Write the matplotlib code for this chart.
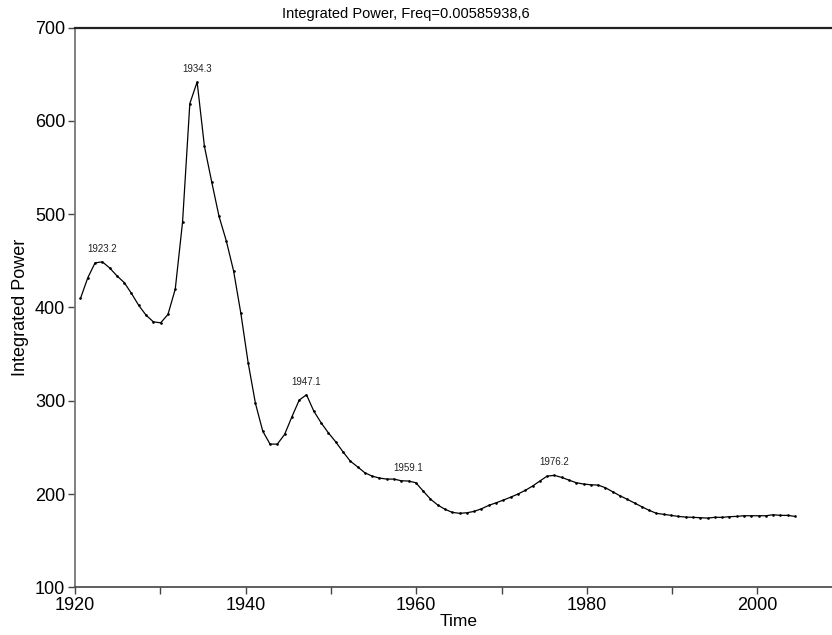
import numpy as np
import matplotlib.pyplot as plt

# integrated power, one value per time step
power = [
    409.6, 431.7, 447.8, 448.9, 442.4, 433.9, 426.7, 415.0, 402.1, 391.7,
    384.6, 383.5, 392.5, 419.6, 491.4, 618.6, 641.7, 572.8, 534.6, 497.8,
    471.4, 439.2, 393.6, 340.6, 297.1, 267.4, 253.5, 253.5, 263.9, 282.8,
    300.7, 306.4, 288.9, 276.4, 265.6, 256.0, 245.3, 235.3, 229.2, 222.8,
    219.2, 217.1, 216.0, 216.0, 214.2, 213.9, 212.1, 203.2, 194.6, 188.2,
    183.6, 180.3, 179.3, 179.9, 181.4, 184.2, 187.8, 190.6, 193.5, 196.6,
    200.0, 203.9, 208.5, 213.9, 219.2, 220.0, 217.8, 214.9, 212.1, 210.7,
    209.9, 209.6, 206.7, 202.4, 198.1, 194.3, 190.3, 186.3, 182.5, 179.3,
    178.2, 177.1, 176.0, 175.3, 175.0, 174.6, 174.2, 175.0, 175.0, 175.7,
    176.0, 176.7, 176.7, 176.7, 176.7, 177.8, 177.1, 177.1, 176.0,
]
t0, dt = 1920.64, 0.8548
peak_idx = [3, 16, 31, 45, 65]

years = t0 + dt * np.arange(len(power))

plt.rcParams['font.family'] = ['Liberation Sans', 'DejaVu Sans']

fig = plt.figure(figsize=(8.32, 6.35), dpi=100)
ax = fig.add_axes([75 / 832, 47.7 / 635, 767.7 / 832, 559.7 / 635])

ax.plot(years, power, color='black', lw=0.9, marker='.', ms=1.8)

for i in peak_idx:
    ax.annotate(f'{years[i]:.1f}', (years[i], power[i]),
                xytext=(0, 9.5), textcoords='offset points',
                ha='center', va='center', fontsize=7, color='#222222')

ax.set_xlim(1920, 2010)
ax.set_ylim(100, 700)
ax.set_xticks([1920, 1940, 1960, 1980, 2000])
ax.set_xticks([1930, 1950, 1970, 1990, 2010], minor=True)
ax.set_yticks([100, 200, 300, 400, 500, 600, 700])

ax.tick_params(axis='both', labelsize=13, direction='out', length=5,
               width=1, color='#444444', pad=2)
ax.tick_params(axis='x', which='minor', length=5, width=1, color='#444444')

ax.spines['left'].set_color('#777777')
ax.spines['left'].set_linewidth(1.3)
ax.spines['bottom'].set_color('#444444')
ax.spines['bottom'].set_linewidth(1.2)
ax.spines['top'].set_color('#222222')
ax.spines['top'].set_linewidth(1.6)
ax.spines['right'].set_visible(False)

ax.set_xlabel('Time', fontsize=12.5, labelpad=0)
ax.set_ylabel('Integrated Power', fontsize=13, labelpad=4)

fig.text(406 / 832, 1 - 14 / 635, 'Integrated Power, Freq=0.00585938,6',
         ha='center', va='center', fontsize=10.5)

fig.savefig('out.png', dpi=100)
